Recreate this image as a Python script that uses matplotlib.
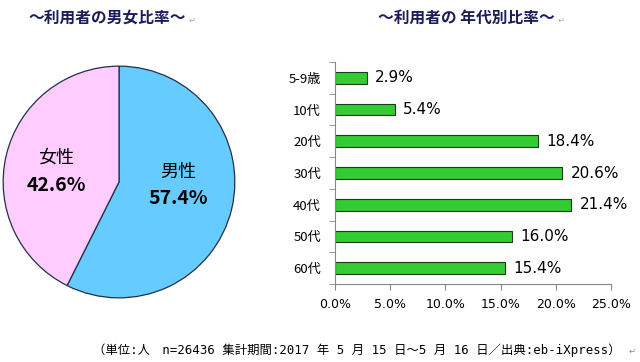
import matplotlib
matplotlib.use("Agg")
import matplotlib.pyplot as plt
import numpy as np

plt.rcParams['font.family'] = ['Noto Sans CJK JP', 'DejaVu Sans']

# データ
性別 = ["男性", "女性"]
性別比率 = [57.4, 42.6]

年代 = ["5-9歳", "10代", "20代", "30代", "40代", "50代", "60代"]
年代比率 = [2.9, 5.4, 18.4, 20.6, 21.4, 16.0, 15.4]
x目盛 = [0, 5, 10, 15, 20, 25]

W, H = 640, 362
fig = plt.figure(figsize=(W / 100, H / 100), dpi=100)

# 円グラフ
ax1 = fig.add_axes([2 / W, (H - 299) / H, 234 / W, 234 / H])
ax1.pie(性別比率, colors=["#66CCFF", "#FFCCFF"], startangle=90, counterclock=False,
        wedgeprops=dict(edgecolor="#223044", linewidth=0.9), radius=1)
ax1.set_aspect("equal")
ax1.set_xlim(-1.01, 1.01)
ax1.set_ylim(-1.01, 1.01)
ax1.text(0.51, 0.09, 性別[0], ha="center", va="center", fontsize=13)
ax1.text(0.51, -0.14, f"{性別比率[0]}%", ha="center", va="center", fontsize=14, fontweight="bold")
ax1.text(-0.54, 0.21, 性別[1], ha="center", va="center", fontsize=13)
ax1.text(-0.54, -0.03, f"{性別比率[1]}%", ha="center", va="center", fontsize=14, fontweight="bold")

# 横棒グラフ
ax2 = fig.add_axes([335 / W, 78 / H, 276 / W, 222 / H])
y = np.arange(len(年代))
ax2.barh(y, 年代比率, height=0.37, color="#33CC33", edgecolor="#1a3a1a", linewidth=0.8)
for yi, v in zip(y, 年代比率):
    ax2.annotate(f"{v}%", (v, yi), xytext=(6, 0), textcoords="offset points",
                 ha="left", va="center", fontsize=11, family=["DejaVu Sans"])
ax2.set_xlim(0, 25)
ax2.set_ylim(len(年代) - 0.5, -0.5)
ax2.set_xticks(x目盛)
ax2.set_xticklabels([f"{t:.1f}%" for t in x目盛], fontsize=9, family=["DejaVu Sans"])
ax2.set_yticks(y)
ax2.set_yticklabels(年代, fontsize=9.5)
ax2.set_yticks(np.arange(-0.5, len(年代)), minor=True)
ax2.tick_params(axis="y", which="major", length=0, pad=10)
ax2.tick_params(axis="y", which="minor", length=4, color="#888888")
ax2.tick_params(axis="x", length=4, color="#888888", pad=6)
for s in ["top", "right"]:
    ax2.spines[s].set_visible(False)
for s in ["left", "bottom"]:
    ax2.spines[s].set_color("#888888")

# タイトル
fig.text(28 / W, 1 - 18 / H, "～利用者の男女比率～", ha="left", va="center",
         fontsize=11.3, fontweight="bold", color="#1c1c5a")
fig.text(189 / W, 1 - 20 / H, "↵", ha="left", va="center", fontsize=6, color="#aaaaaa")
fig.text(378 / W, 1 - 18 / H, "～利用者の 年代別比率～", ha="left", va="center",
         fontsize=11.3, fontweight="bold", color="#1c1c5a")
fig.text(558 / W, 1 - 20 / H, "↵", ha="left", va="center", fontsize=6, color="#aaaaaa")

# 注記
fig.text(93 / W, 1 - 350 / H,
         "（単位:人　n=26436 集計期間:2017 年 5 月 15 日～5 月 16 日／出典:eb-iXpress）",
         ha="left", va="center", fontsize=8.9, family=["DejaVu Sans Mono", "Noto Sans CJK JP"])
fig.text(629 / W, 1 - 351 / H, "↵", ha="left", va="center", fontsize=6, color="#888888")

fig.savefig("out.png", dpi=100)
